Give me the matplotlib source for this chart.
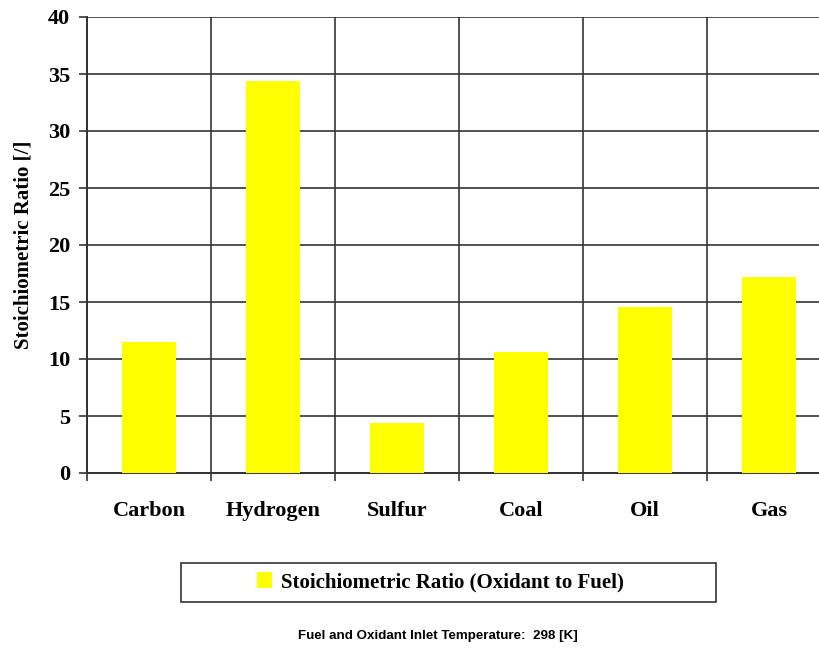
import numpy as np
import matplotlib
matplotlib.use("Agg")
import matplotlib.pyplot as plt
from matplotlib.patches import Rectangle, Patch

fuels = ["Carbon", "Hydrogen", "Sulfur", "Coal", "Oil", "Gas"]
ratio = [11.5, 34.4, 4.4, 10.6, 14.6, 17.2]
y_ticks = [0, 5, 10, 15, 20, 25, 30, 35, 40]

serif = ["Liberation Serif", "DejaVu Serif"]
sans = ["Liberation Sans", "DejaVu Sans"]
grid_col = "#333333"

fig = plt.figure(figsize=(8.19, 6.52), dpi=100)
ax = fig.add_axes([87 / 819, 1 - 473 / 652, 744 / 819, 456 / 652])

x = np.arange(len(fuels))
ax.bar(x, ratio, width=0.44, color="#ffff00", zorder=3,
       label="Stoichiometric Ratio (Oxidant to Fuel)")

ax.set_xlim(-0.5, len(fuels) - 0.5)
ax.set_ylim(0, 40)

# category boundaries carry the ticks/grid, centres carry the labels
ax.set_xticks(np.arange(len(fuels) + 1) - 0.5)
ax.set_xticklabels([])
ax.set_xticks(x, minor=True)
ax.set_xticklabels(fuels, minor=True, fontfamily=serif, fontweight="bold", fontsize=16)
ax.tick_params(axis="x", which="minor", length=0, pad=20)
ax.tick_params(axis="x", which="major", length=6, width=1.2, color=grid_col, direction="out")

ax.set_yticks(y_ticks)
ax.set_yticklabels([str(v) for v in y_ticks], fontfamily=serif, fontweight="bold", fontsize=16)
ax.tick_params(axis="y", length=6, width=1.2, color=grid_col, pad=6)

ax.grid(True, which="major", color=grid_col, linewidth=1.2, zorder=0)
ax.set_axisbelow(True)
for side in ["top", "right"]:
    ax.spines[side].set_visible(False)
for side in ["left", "bottom"]:
    ax.spines[side].set_color(grid_col)
    ax.spines[side].set_linewidth(1.4)

ax.set_ylabel("Stoichiometric Ratio [/]", fontfamily=serif, fontweight="bold", fontsize=15)
ax.yaxis.set_label_coords(-0.072, 0.5)

# legend with a plain square box spanning under the chart
fig.patches.append(Rectangle((181 / 819, 1 - 602 / 652), 535 / 819, 39 / 652,
                             transform=fig.transFigure, fill=False,
                             edgecolor="#333333", linewidth=1.2))
handle = Patch(facecolor="#ffff00", edgecolor="none")
fig.legend([handle], ["Stoichiometric Ratio (Oxidant to Fuel)"], loc="center",
           bbox_to_anchor=(440 / 819, 1 - 582 / 652), frameon=False,
           prop={"family": serif, "weight": "bold", "size": 15},
           handlelength=0.75, handleheight=0.85, handletextpad=0.4)

fig.text(438 / 819, 1 - 636 / 652, "Fuel and Oxidant Inlet Temperature:  298 [K]",
         ha="center", va="center", fontfamily=sans, fontweight="bold", fontsize=9.6)

fig.savefig("out.png", dpi=100)
